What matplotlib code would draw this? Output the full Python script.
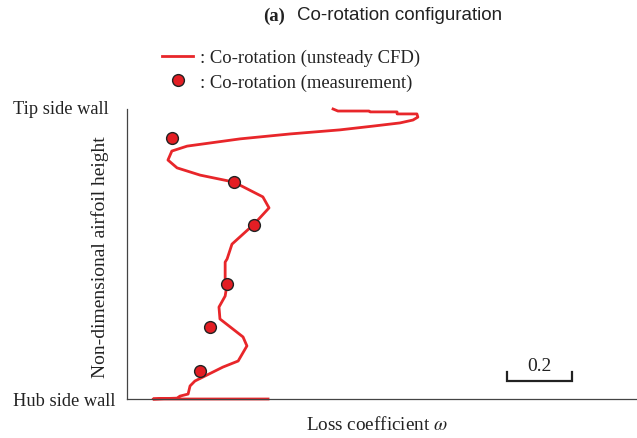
import numpy as np
import matplotlib
matplotlib.use("Agg")
import matplotlib.pyplot as plt
from matplotlib.lines import Line2D

plt.rcParams['mathtext.fontset'] = 'stix'

# unsteady CFD profile: loss coefficient vs non-dimensional height (tip -> hub)
cfd_loss = [0.634, 0.649, 0.745, 0.748, 0.831, 0.831, 0.892, 0.895, 0.880, 0.840,
            0.757, 0.655, 0.502, 0.348, 0.185, 0.138, 0.126, 0.154, 0.225, 0.329,
            0.418, 0.437, 0.391, 0.323, 0.308, 0.302, 0.302, 0.308, 0.302, 0.283,
            0.286, 0.357, 0.369, 0.342, 0.295, 0.209, 0.194, 0.188, 0.163, 0.154,
            0.080, 0.434]
cfd_height = [1.000, 0.993, 0.993, 0.990, 0.990, 0.983, 0.983, 0.972, 0.962, 0.952,
              0.941, 0.928, 0.914, 0.897, 0.872, 0.855, 0.824, 0.797, 0.772, 0.748,
              0.697, 0.659, 0.603, 0.534, 0.483, 0.472, 0.414, 0.397, 0.355, 0.317,
              0.276, 0.214, 0.183, 0.131, 0.110, 0.062, 0.045, 0.017, 0.010, 0.003,
              0.000, 0.000]

# measurement points
meas_loss = [0.138, 0.329, 0.391, 0.308, 0.255, 0.225]
meas_height = [0.900, 0.748, 0.600, 0.397, 0.248, 0.097]

# scale bar
bar_start = 1.169
bar_len = 0.2
bar_y = 0.062

W, H = 637, 439
fig = plt.figure(figsize=(W / 100, H / 100), dpi=100)
ax = fig.add_axes([127 / W, 1 - 400 / H, 509 / W, 290 / H])

red = '#e8262a'
ax.plot(cfd_loss, cfd_height, color=red, lw=2.0, clip_on=False, zorder=2)
ax.plot(meas_loss, meas_height, 'o', ms=8.5, mfc='#e31e24', mec='#222222',
        mew=1.0, clip_on=False, zorder=3)

ax.set_xlim(0, 509 / 325)
ax.set_ylim(0, 1)
for s in ['top', 'right']:
    ax.spines[s].set_visible(False)
for s in ['left', 'bottom']:
    ax.spines[s].set_color('#444444')
    ax.spines[s].set_linewidth(0.9)
ax.set_xticks([])
ax.set_yticks([])

serif = 'Liberation Serif'

# scale bar
tick_h = 0.031
ax.plot([bar_start, bar_start, bar_start + bar_len, bar_start + bar_len],
        [bar_y + tick_h, bar_y, bar_y, bar_y + tick_h], color='#222222', lw=1.6,
        solid_joinstyle='miter')
ax.text(bar_start + bar_len / 2, bar_y + 0.055, '%.1f' % bar_len, ha='center',
        va='center', fontsize=14, family=serif, color='#222222')

fig.text(13 / W, 1 - 110 / H, 'Tip side wall', ha='left', va='center',
         fontsize=13.2, family=serif, color='#222222')
fig.text(13 / W, 1 - 402 / H, 'Hub side wall', ha='left', va='center',
         fontsize=13.2, family=serif, color='#222222')
fig.text(100 / W, 1 - 257 / H, 'Non-dimensional airfoil height', rotation=90,
         ha='center', va='center', fontsize=14, family=serif, color='#222222')
fig.text(377 / W, 1 - 425 / H, r'Loss coefficient $\omega$', ha='center',
         va='center', fontsize=13.8, family=serif, color='#222222')

# title
fig.text(263 / W, 1 - 16 / H, '(a)', ha='left', va='center', fontsize=13.5,
         family=serif, weight='bold', color='#222222')
fig.text(297 / W, 1 - 15 / H, 'Co-rotation configuration', ha='left',
         va='center', fontsize=13.5, family='Liberation Sans', color='#222222')

handles = [Line2D([], [], color=red, lw=2.0),
           Line2D([], [], ls='none', marker='o', ms=8.5, mfc='#e31e24',
                  mec='#222222', mew=1.0)]
labels = [': Co-rotation (unsteady CFD)', ': Co-rotation (measurement)']
fig.legend(handles, labels, loc='upper left',
           bbox_to_anchor=(162 / W, 1 - 50 / H), frameon=False,
           prop={'family': serif, 'size': 13.4}, handlelength=1.67,
           handletextpad=0.38, labelspacing=0.38, borderpad=0,
           borderaxespad=0, numpoints=1, labelcolor='#222222')

fig.savefig('out.png', dpi=100)
